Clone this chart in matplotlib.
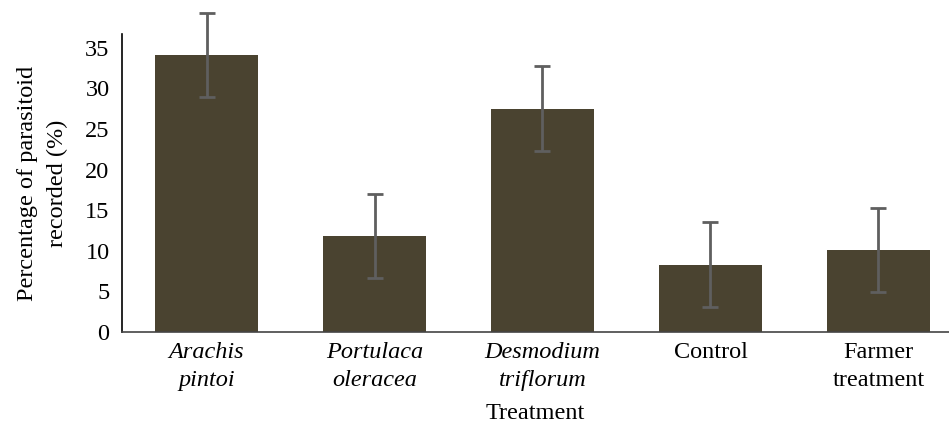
import matplotlib
matplotlib.use('Agg')
import matplotlib.pyplot as plt

# Mean parasitism per treatment with error bars
treatments = ['Arachis\npintoi', 'Portulaca\noleracea', 'Desmodium\ntriflorum',
              'Control', 'Farmer\ntreatment']
italic = [True, True, True, False, False]
means = [34.1, 11.8, 27.5, 8.3, 10.1]
errors = [5.15, 5.2, 5.25, 5.2, 5.15]

plt.rcParams['font.family'] = ['Liberation Serif', 'DejaVu Serif']
fs = 17.5

fig = plt.figure(figsize=(9.49, 4.25), dpi=100)
ax = fig.add_axes([0.1286, 0.2188, 0.8714, 0.7012])

x = list(range(len(treatments)))
ax.bar(x, means, width=0.615, color='#4a4330', zorder=2)
eb = ax.errorbar(x, means, yerr=errors, fmt='none', ecolor='#5f5f5f',
                 elinewidth=2, capsize=6, capthick=2, zorder=3)
for art in eb.lines[1] + eb.lines[2]:
    art.set_clip_on(False)

ax.set_xlim(-0.503, 4.42)
ax.set_ylim(0, 36.7)
ax.set_yticks([0, 5, 10, 15, 20, 25, 30, 35])
ax.set_xticks(x)
ax.set_xticklabels(treatments, fontsize=fs, linespacing=1.45)
for lab, it in zip(ax.get_xticklabels(), italic):
    if it:
        lab.set_fontstyle('italic')
ax.tick_params(axis='both', length=0, labelsize=fs)
ax.tick_params(axis='x', pad=7)
ax.tick_params(axis='y', pad=9)

for side in ['top', 'right']:
    ax.spines[side].set_visible(False)
ax.spines['left'].set_color('black')
ax.spines['left'].set_linewidth(1.2)
ax.spines['bottom'].set_color('#444444')
ax.spines['bottom'].set_linewidth(1.2)

ax.set_xlabel('Treatment', fontsize=fs, labelpad=9)
ax.set_ylabel('Percentage of parasitoid\nrecorded (%)', fontsize=fs,
              labelpad=12, linespacing=1.6)

plt.savefig('out.png', dpi=100)
